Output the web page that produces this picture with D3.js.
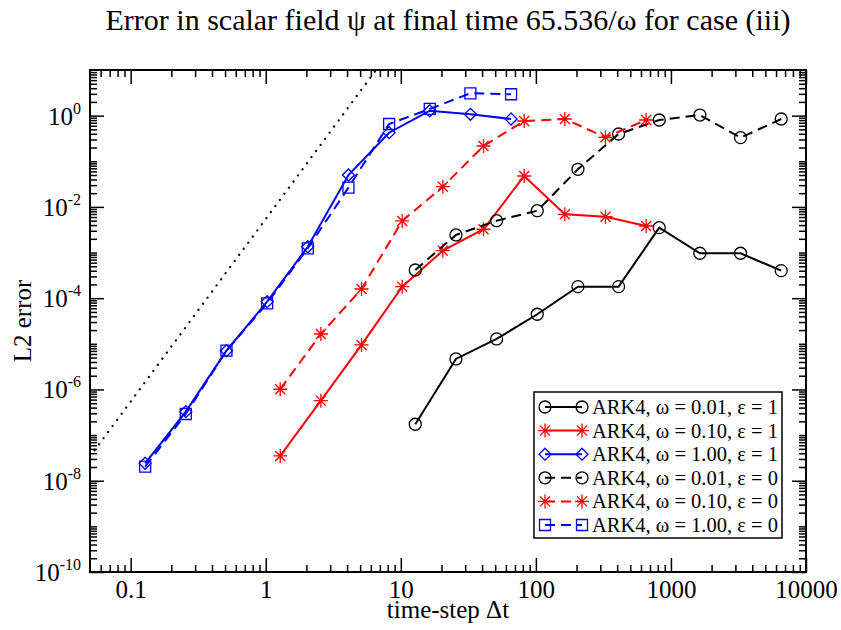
<!DOCTYPE html>
<html>
<head>
<meta charset="utf-8">
<script src="https://cdn.jsdelivr.net/npm/d3@7"></script>
<style>
  body { margin: 0; background: #fff; }
  text { font-family: "Liberation Serif", "Times New Roman", serif; fill: #000; }
</style>
</head>
<body>
<div id="chart"></div>
<script>
// time steps for each omega (T = 65.536/omega, dt = T/512 ... T/1)
const dtW100 = [0.128, 0.256, 0.512, 1.024, 2.048, 4.096, 8.192, 16.384, 32.768, 65.536];
const dtW010 = [1.28, 2.56, 5.12, 10.24, 20.48, 40.96, 81.92, 163.84, 327.68, 655.36];
const dtW001 = [12.8, 25.6, 51.2, 102.4, 204.8, 409.6, 819.2, 1638.4, 3276.8, 6553.6];

// L2 errors
const errW001E1 = [1.73e-7, 4.66e-6, 1.28e-5, 4.44e-5, 1.79e-4, 1.79e-4, 3.51e-3, 9.64e-4, 9.64e-4, 4.01e-4];
const errW010E1 = [3.49e-8, 5.68e-7, 9.44e-6, 1.79e-4, 1.10e-3, 3.24e-3, 0.0476, 6.89e-3, 6.11e-3, 3.82e-3];
const errW100E1 = [2.41e-8, 3.26e-7, 7.07e-6, 8.38e-5, 1.34e-3, 0.050, 0.423, 1.28, 1.07, 0.844];
const errW001E0 = [4.15e-4, 2.43e-3, 4.99e-3, 8.26e-3, 0.0667, 0.396, 0.802, 1.03, 0.329, 0.844];
const errW010E0 = [1.01e-6, 1.64e-5, 1.59e-4, 4.92e-3, 0.0277, 0.216, 0.763, 0.844, 0.335, 0.802];
const errW100E0 = [2.03e-8, 2.90e-7, 7.07e-6, 7.73e-5, 1.24e-3, 0.0264, 0.656, 1.40, 3.09, 2.94];

// dotted 4th order reference line (two end points)
const refDt = [0.05, 6.5];
const refErr = [3.4e-8, 9.7];

const legendLabels = [
  "ARK4, \u03c9 = 0.01, \u03b5 = 1",
  "ARK4, \u03c9 = 0.10, \u03b5 = 1",
  "ARK4, \u03c9 = 1.00, \u03b5 = 1",
  "ARK4, \u03c9 = 0.01, \u03b5 = 0",
  "ARK4, \u03c9 = 0.10, \u03b5 = 0",
  "ARK4, \u03c9 = 1.00, \u03b5 = 0"
];

const xTicks = [0.1, 1, 10, 100, 1000, 10000];
const xTickLabels = ["0.1", "1", "10", "100", "1000", "10000"];
const yTickExps = [0, -2, -4, -6, -8, -10];

const series = [
  { x: dtW001, y: errW001E1, color: "#000", dash: null, mark: "circle" },
  { x: dtW010, y: errW010E1, color: "#ff0000", dash: null, mark: "star" },
  { x: dtW100, y: errW100E1, color: "#0000ff", dash: null, mark: "diamond" },
  { x: dtW001, y: errW001E0, color: "#000", dash: "10,6", mark: "circle" },
  { x: dtW010, y: errW010E0, color: "#ff0000", dash: "10,6", mark: "star" },
  { x: dtW100, y: errW100E0, color: "#0000ff", dash: "10,6", mark: "square" }
];

const W = 841, H = 630;
const margin = { left: 90, right: 35, top: 70, bottom: 58 };
const pw = W - margin.left - margin.right;
const ph = H - margin.top - margin.bottom;

const svg = d3.select("#chart").append("svg").attr("width", W).attr("height", H);

const x = d3.scaleLog().domain([0.05, 10000]).range([margin.left, margin.left + pw]);
const y = d3.scaleLog().domain([1e-10, 10]).range([margin.top + ph, margin.top]);

svg.append("defs").append("clipPath").attr("id", "plotclip")
  .append("rect")
  .attr("x", margin.left).attr("y", margin.top)
  .attr("width", pw).attr("height", ph);

// minor tick positions
let xMinor = [];
for (let e = -2; e <= 3; e++) {
  for (let k = 2; k <= 9; k++) {
    const v = k * Math.pow(10, e);
    if (v > 0.05 && v < 10000) xMinor.push(v);
  }
}
let yMinor = [];
for (let e = -10; e <= 0; e++) {
  for (let k = 1; k <= 9; k++) {
    if (k === 1 && e % 2 === 0) continue;
    yMinor.push(k * Math.pow(10, e));
  }
}

function styleAxis(g) {
  g.select(".domain").remove();
  g.selectAll(".tick line").attr("stroke", "#000").attr("stroke-width", 1.5);
}

// bottom / top
svg.append("g").attr("transform", `translate(0,${margin.top + ph})`)
  .call(d3.axisBottom(x).tickValues(xTicks).tickSize(-14).tickPadding(0)
    .tickFormat((d, i) => xTickLabels[i]))
  .call(styleAxis)
  .call(g => g.selectAll("text").attr("font-size", 25).attr("y", 26).attr("dy", null));
svg.append("g").attr("transform", `translate(0,${margin.top + ph})`)
  .call(d3.axisBottom(x).tickValues(xMinor).tickSize(-7).tickFormat(""))
  .call(styleAxis);
svg.append("g").attr("transform", `translate(0,${margin.top})`)
  .call(d3.axisTop(x).tickValues(xTicks).tickSize(-14).tickFormat(""))
  .call(styleAxis);
svg.append("g").attr("transform", `translate(0,${margin.top})`)
  .call(d3.axisTop(x).tickValues(xMinor).tickSize(-7).tickFormat(""))
  .call(styleAxis);

// left / right
const yMajor = yTickExps.map(e => Math.pow(10, e));
svg.append("g").attr("transform", `translate(${margin.left},0)`)
  .call(d3.axisLeft(y).tickValues(yMajor).tickSize(-14).tickFormat(""))
  .call(styleAxis);
svg.append("g").attr("transform", `translate(${margin.left},0)`)
  .call(d3.axisLeft(y).tickValues(yMinor).tickSize(-7).tickFormat(""))
  .call(styleAxis);
svg.append("g").attr("transform", `translate(${margin.left + pw},0)`)
  .call(d3.axisRight(y).tickValues(yMajor).tickSize(-14).tickFormat(""))
  .call(styleAxis);
svg.append("g").attr("transform", `translate(${margin.left + pw},0)`)
  .call(d3.axisRight(y).tickValues(yMinor).tickSize(-7).tickFormat(""))
  .call(styleAxis);

// y tick labels 10^n
yTickExps.forEach(e => {
  const t = svg.append("text")
    .attr("x", margin.left - 9)
    .attr("y", y(Math.pow(10, e)) + 9)
    .attr("text-anchor", "end")
    .attr("font-size", 25);
  t.append("tspan").text("10");
  t.append("tspan").attr("font-size", 16).attr("dy", -11).text(String(e));
});

// frame
svg.append("rect")
  .attr("x", margin.left).attr("y", margin.top)
  .attr("width", pw).attr("height", ph)
  .attr("fill", "none").attr("stroke", "#000").attr("stroke-width", 2);

// markers
function markerPath(type) {
  if (type === "circle") return d3.symbol().type(d3.symbolCircle).size(Math.PI * 36)();
  if (type === "diamond") return "M0,-6L6,0L0,6L-6,0Z";
  if (type === "square") return "M-5.5,-5.5H5.5V5.5H-5.5Z";
  // asterisk
  return "M-7,0H7M0,-7V7M-5,-5L5,5M-5,5L5,-5";
}

const plot = svg.append("g").attr("clip-path", "url(#plotclip)");

// reference line
plot.append("path")
  .datum(refDt.map((d, i) => [d, refErr[i]]))
  .attr("d", d3.line().x(d => x(d[0])).y(d => y(d[1])))
  .attr("fill", "none").attr("stroke", "#000").attr("stroke-width", 2.2)
  .attr("stroke-linecap", "round").attr("stroke-dasharray", "0.1,7.5");

const line = d3.line().x(d => x(d[0])).y(d => y(d[1]));
series.forEach(s => {
  const pts = s.x.map((d, i) => [d, s.y[i]]);
  plot.append("path").datum(pts)
    .attr("d", line)
    .attr("fill", "none").attr("stroke", s.color).attr("stroke-width", 2)
    .attr("stroke-dasharray", s.dash);
  plot.selectAll(null).data(pts).enter().append("path")
    .attr("transform", d => `translate(${x(d[0])},${y(d[1])})`)
    .attr("d", markerPath(s.mark))
    .attr("fill", "none").attr("stroke", s.color).attr("stroke-width", 1.3);
});

// legend
const lg = svg.append("g");
lg.append("rect").attr("x", 534).attr("y", 392).attr("width", 248).attr("height", 146)
  .attr("fill", "#fff").attr("stroke", "#000").attr("stroke-width", 1.5);
series.forEach((s, i) => {
  const yy = 407 + i * 23.6;
  lg.append("line").attr("x1", 545).attr("x2", 582).attr("y1", yy).attr("y2", yy)
    .attr("stroke", s.color).attr("stroke-width", 2).attr("stroke-dasharray", s.dash);
  [545, 582].forEach(xx => {
    lg.append("path").attr("transform", `translate(${xx},${yy})`)
      .attr("d", markerPath(s.mark))
      .attr("fill", "none").attr("stroke", s.color).attr("stroke-width", 1.3);
  });
  lg.append("text").attr("x", 592).attr("y", yy + 7).attr("font-size", 20.5).text(legendLabels[i]);
});

// titles
svg.append("text").attr("x", margin.left + pw / 2).attr("y", 30)
  .attr("text-anchor", "middle").attr("font-size", 30)
  .text("Error in scalar field \u03c8 at final time 65.536/\u03c9 for case (iii)");
svg.append("text").attr("x", margin.left + pw / 2).attr("y", 618)
  .attr("text-anchor", "middle").attr("font-size", 25)
  .text("time-step \u0394t");
svg.append("text").attr("transform", `translate(31,${margin.top + ph / 2}) rotate(-90)`)
  .attr("text-anchor", "middle").attr("font-size", 25)
  .text("L2 error");
</script>
</body>
</html>
